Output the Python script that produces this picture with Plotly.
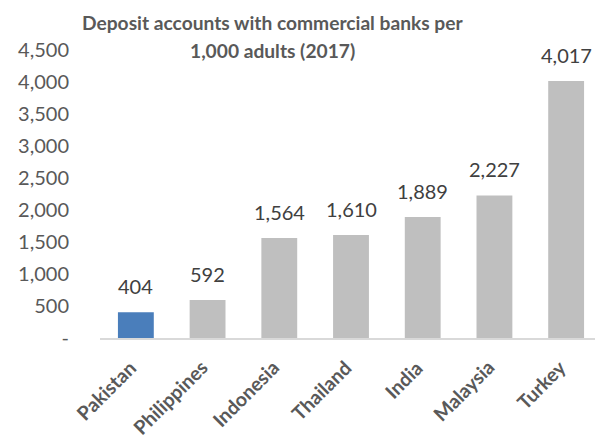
import plotly.graph_objects as go

countries = ["Pakistan", "Philippines", "Indonesia", "Thailand", "India", "Malaysia", "Turkey"]
values = [404, 592, 1564, 1610, 1889, 2227, 4017]
colors = ["#4a7ebb"] + ["#bfbfbf"] * 6
y_tickvals = [0, 500, 1000, 1500, 2000, 2500, 3000, 3500, 4000, 4500]
y_ticktext = ["-", "500", "1,000", "1,500", "2,000", "2,500", "3,000", "3,500", "4,000", "4,500"]
title_lines = ["Deposit accounts with commercial banks per", "1,000 adults (2017)"]

font_family = "Lato, 'Open Sans', sans-serif"

fig = go.Figure(go.Bar(
    x=countries, y=values,
    marker=dict(color=colors, line=dict(width=0)),
    hoverinfo="x+y",
))

# data labels above bars
for c, v in zip(countries, values):
    fig.add_annotation(x=c, y=v, text=f"{v:,}", showarrow=False,
                       yanchor="bottom", yshift=12,
                       font=dict(size=20, color="#404040", family=font_family))

# rotated category labels
for c in countries:
    fig.add_annotation(x=c, y=0, text=f"<b>{c}</b>", showarrow=False, textangle=-45,
                       xanchor="right", yanchor="top", xshift=7, yshift=-15,
                       font=dict(size=19.5, color="#595959", family=font_family))

# two-line bold title
for txt, yy in zip(title_lines, [1.097, 1.0]):
    fig.add_annotation(xref="paper", yref="paper", x=0.343, y=yy, text=f"<b>{txt}</b>",
                       showarrow=False, xanchor="center", yanchor="middle",
                       font=dict(size=19.2, color="#595959", family=font_family))

# page body has an 8px margin: figure is offset by 8px
fig.update_layout(
    width=595, height=438,
    margin=dict(l=92, r=1, t=42, b=108, autoexpand=False),
    paper_bgcolor="white", plot_bgcolor="white",
    bargap=0.5,
    showlegend=False,
    font=dict(family=font_family),
)
fig.update_yaxes(range=[0, 4500], tickvals=y_tickvals, ticktext=y_ticktext,
                 showgrid=False, zeroline=False, showline=False,
                 tickfont=dict(size=20, color="#595959"), ticklabelstandoff=30)
fig.update_xaxes(range=[-0.5, len(countries) - 0.5], showline=True, linecolor="#d9d9d9",
                 linewidth=1.5, showticklabels=False)

fig.write_html("out.html")
